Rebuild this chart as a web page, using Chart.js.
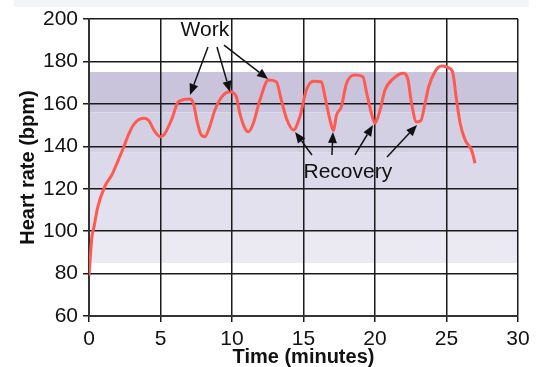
<!DOCTYPE html>
<html>
<head>
<meta charset="utf-8">
<script src="https://cdn.jsdelivr.net/npm/chart.js@4"></script>
<style>
  body { margin: 0; background: #fff; }
  canvas { display: block; }
</style>
</head>
<body>
<canvas id="hrChart" width="538" height="367"></canvas>
<script>
// heart rate trace
const minutes = [0, 0.2, 0.35, 0.6, 1.1, 1.6, 2.05, 2.45, 2.7, 3.1, 3.8, 4.15, 4.6, 5.0, 5.3, 5.8, 6.25, 7.05, 7.3, 7.55, 7.8, 8.1, 8.45, 8.8, 9.3, 9.85, 10.3, 10.55, 10.9, 11.15, 11.5, 11.95, 12.55, 13.1, 13.45, 13.85, 14.3, 14.75, 15.2, 15.7, 16.25, 16.5, 16.85, 17.1, 17.3, 17.65, 18.0, 18.6, 19.15, 19.42, 19.75, 20.0, 20.35, 20.7, 21.3, 22.0, 22.3, 22.55, 22.9, 23.2, 23.5, 23.75, 24.2, 24.65, 25.2, 25.45, 25.7, 25.95, 26.3, 26.75, 27.0];
const heartRate = [79, 97, 102, 111, 121, 126.5, 133.5, 140, 144.5, 150, 153.2, 152.4, 147, 144.5, 146, 153, 161, 162.3, 160.3, 152, 146, 144.5, 149.5, 157, 163.4, 165.7, 163.4, 155.5, 148.5, 146.9, 151, 161.8, 171.2, 170.4, 161.8, 152.4, 147.7, 154, 166.5, 170.6, 170.4, 163.4, 152.4, 147.4, 154.5, 158.7, 169.5, 173.6, 172.8, 165, 155.5, 150.8, 157, 166.5, 172, 174.4, 171.5, 160.5, 151.5, 152, 160.3, 168, 175.2, 177.8, 176.8, 174.4, 162, 151, 143, 138.2, 132];

// shaded training zones (bpm)
const zoneTop = [175, 156, 137, 120, 100];
const zoneBottom = [156, 137, 120, 100, 85];
const zoneColors = ['#c9c4dc', '#d4d0e4', '#dcd9ea', '#e3e1ee', '#ebeaf2'];

const xTicks = [0, 5, 10, 15, 20, 25, 30];
const yTicks = [60, 80, 100, 120, 140, 160, 180, 200];

// annotation labels and arrows, in data units
const workLabel = { text: 'Work', x: 8.1, y: 194.6 };
const workArrows = [[8.32, 186.8, 7.06, 164.2], [8.95, 186.8, 9.86, 165.6], [9.44, 187.7, 12.52, 171.7]];
const recoveryLabel = { text: 'Recovery', x: 18.1, y: 127.9 };
const recoveryArrows = [[15.59, 135.9, 14.41, 146.7], [16.99, 135.9, 17.06, 146.7], [18.6, 135.9, 19.86, 150.0], [20.84, 134.9, 22.94, 150.0]];

Chart.defaults.font.family = '"Liberation Sans", Arial, sans-serif';
Chart.defaults.color = '#111';

const zonesPlugin = {
  id: 'zones',
  beforeDraw(chart) {
    const c = chart.ctx;
    const xs = chart.scales.x, ys = chart.scales.y;
    c.save();
    c.fillStyle = '#f1f5f7';
    c.fillRect(14, 0, 515, 7);
    for (let i = 0; i < zoneTop.length; i++) {
      const t = ys.getPixelForValue(zoneTop[i]);
      const b = ys.getPixelForValue(zoneBottom[i]);
      c.fillStyle = zoneColors[i];
      c.fillRect(xs.left, t, xs.right - xs.left, b - t);
    }
    c.restore();
  }
};

function arrow(c, xs, ys, a) {
  const x1 = xs.getPixelForValue(a[0]), y1 = ys.getPixelForValue(a[1]);
  const x2 = xs.getPixelForValue(a[2]), y2 = ys.getPixelForValue(a[3]);
  const ang = Math.atan2(y2 - y1, x2 - x1);
  const len = 11, half = 4.5;
  const bx = x2 - len * Math.cos(ang), by = y2 - len * Math.sin(ang);
  c.beginPath();
  c.moveTo(x1, y1);
  c.lineTo(bx, by);
  c.stroke();
  c.beginPath();
  c.moveTo(x2, y2);
  c.lineTo(bx + half * Math.sin(ang), by - half * Math.cos(ang));
  c.lineTo(bx - half * Math.sin(ang), by + half * Math.cos(ang));
  c.closePath();
  c.fill();
}

const notesPlugin = {
  id: 'notes',
  afterDatasetsDraw(chart) {
    const c = chart.ctx;
    const xs = chart.scales.x, ys = chart.scales.y;
    c.save();
    c.strokeStyle = '#111';
    c.fillStyle = '#111';
    c.lineWidth = 1.5;
    workArrows.forEach(a => arrow(c, xs, ys, a));
    recoveryArrows.forEach(a => arrow(c, xs, ys, a));
    c.font = '21px "Liberation Sans", Arial, sans-serif';
    c.textAlign = 'center';
    c.textBaseline = 'middle';
    [workLabel, recoveryLabel].forEach(l => {
      c.fillText(l.text, xs.getPixelForValue(l.x), ys.getPixelForValue(l.y));
    });
    c.restore();
  }
};

new Chart(document.getElementById('hrChart'), {
  type: 'line',
  data: {
    datasets: [{
      data: minutes.map((m, i) => ({ x: m, y: heartRate[i] })),
      borderColor: '#ff5a50',
      borderWidth: 3,
      pointRadius: 0,
      cubicInterpolationMode: 'monotone',
      fill: false
    }]
  },
  options: {
    responsive: false,
    animation: false,
    layout: { padding: { top: 19, right: 20, left: 0, bottom: 0 } },
    plugins: { legend: { display: false }, tooltip: { enabled: false } },
    scales: {
      x: {
        type: 'linear',
        min: 0,
        max: 30,
        afterBuildTicks: s => { s.ticks = xTicks.map(v => ({ value: v })); },
        afterFit: s => { s.height = 51; },
        ticks: { font: { size: 21 }, padding: 5, maxRotation: 0 },
        grid: { color: '#1a1a1a', lineWidth: 1.5, tickLength: 6 },
        border: { color: '#333', width: 2 },
        title: {
          display: true,
          text: 'Time (minutes)',
          font: { size: 20, weight: 'bold' },
          padding: { top: 0, bottom: -2 }
        }
      },
      y: {
        min: 60,
        max: 200,
        afterBuildTicks: s => { s.ticks = yTicks.map(v => ({ value: v })); },
        afterFit: s => { s.width = 89; },
        ticks: { font: { size: 21 }, padding: 5 },
        grid: { color: '#1a1a1a', lineWidth: 1.5, tickLength: 6 },
        border: { color: '#333', width: 2 },
        title: {
          display: true,
          text: 'Heart rate (bpm)',
          font: { size: 20, weight: 'bold' },
          padding: { top: 16, bottom: 0 }
        }
      }
    }
  },
  plugins: [zonesPlugin, notesPlugin]
});
</script>
</body>
</html>
